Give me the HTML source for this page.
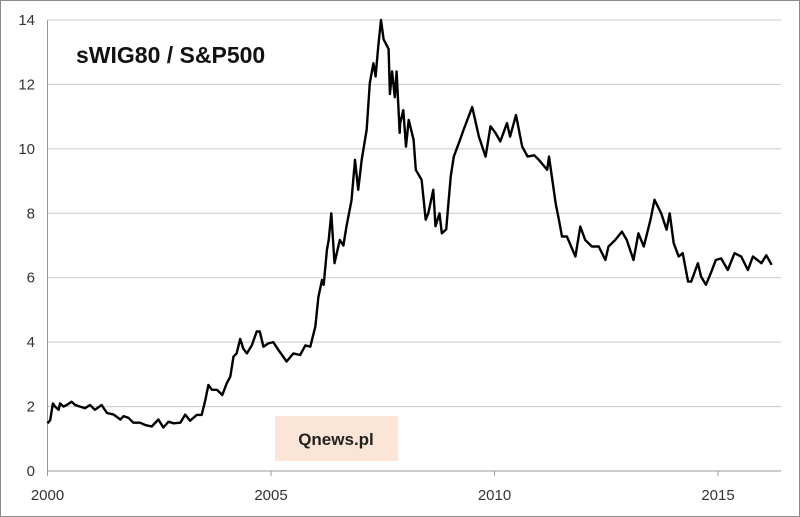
<!DOCTYPE html>
<html><head><meta charset="utf-8"><style>
body{margin:0;background:#fff}
svg{display:block;font-family:"Liberation Sans",Arial,sans-serif}
</style></head><body>
<svg id="chart" width="800" height="517" viewBox="0 0 800 517">
<rect x="0.5" y="0.5" width="799" height="516" fill="#fff" stroke="#8c8c8c"/>
<g id="grid"></g>
<g id="axes"></g>
<rect x="275" y="416" width="123" height="45" fill="#fbe5d6"/>
<text x="336" y="445" text-anchor="middle" font-size="17" font-weight="bold" fill="#222">Qnews.pl</text>
<text x="76" y="63" font-size="23" font-weight="bold" fill="#111">sWIG80 / S&amp;P500</text>
<path id="line" fill="none" stroke="#000" stroke-width="2.4" stroke-linejoin="round"/>
</svg>
<script>
const years=[2000.0,2000.06,2000.12,2000.17,2000.25,2000.28,2000.36,2000.43,2000.54,2000.62,2000.73,2000.84,2000.95,2001.06,2001.21,2001.33,2001.48,2001.63,2001.7,2001.81,2001.92,2002.07,2002.18,2002.33,2002.48,2002.59,2002.71,2002.82,2002.97,2003.08,2003.19,2003.34,2003.45,2003.53,2003.6,2003.68,2003.79,2003.91,2004.01,2004.09,2004.16,2004.23,2004.31,2004.38,2004.46,2004.57,2004.68,2004.75,2004.83,2004.94,2005.05,2005.17,2005.35,2005.5,2005.65,2005.77,2005.88,2005.99,2006.06,2006.14,2006.18,2006.25,2006.29,2006.35,2006.42,2006.54,2006.62,2006.69,2006.8,2006.88,2006.95,2007.03,2007.14,2007.21,2007.29,2007.34,2007.4,2007.46,2007.52,2007.63,2007.66,2007.71,2007.77,2007.81,2007.88,7.89+2000,2007.96,2008.02,2008.08,2008.19,2008.24,2008.37,2008.46,2008.52,2008.63,2008.68,2008.77,2008.82,2008.92,2009.02,2009.09,2009.2,2009.31,2009.5,2009.65,2009.8,2009.91,2010.02,2010.13,2010.28,2010.35,2010.48,2010.62,2010.74,2010.89,2010.99,2011.18,2011.22,2011.37,2011.44,2011.51,2011.62,2011.81,2011.92,2012.03,2012.18,2012.33,2012.48,2012.55,2012.7,2012.85,2012.96,2013.11,2013.22,2013.34,2013.49,2013.58,2013.73,2013.85,2013.92,2014.01,2014.12,2014.21,2014.33,2014.4,2014.55,2014.62,2014.73,2014.84,2014.95,2015.07,2015.22,2015.37,2015.52,2015.67,2015.78,2015.97,2016.08,2016.2,2016.38,2016.41];
const values=[1.48,1.58,2.1,2.0,1.9,2.1,2.0,2.05,2.15,2.05,2.0,1.95,2.05,1.9,2.05,1.8,1.75,1.6,1.7,1.65,1.5,1.5,1.43,1.38,1.6,1.35,1.53,1.48,1.5,1.75,1.56,1.74,1.74,2.2,2.67,2.52,2.52,2.36,2.72,2.93,3.55,3.65,4.1,3.8,3.65,3.9,4.33,4.33,3.86,3.96,4.0,3.75,3.4,3.65,3.6,3.9,3.86,4.48,5.4,5.93,5.78,6.86,7.17,8.0,6.45,7.17,7.0,7.6,8.4,9.66,8.73,9.66,10.6,12.04,12.66,12.25,13.2,14.0,13.4,13.1,11.7,12.4,11.6,12.4,10.5,10.8,11.2,10.07,10.9,10.28,9.35,9.04,7.8,8.0,8.73,7.6,8.0,7.38,7.5,9.14,9.76,10.17,10.6,11.3,10.38,9.76,10.7,10.5,10.23,10.8,10.38,11.05,10.07,9.76,9.8,9.66,9.35,9.76,8.3,7.8,7.28,7.28,6.66,7.59,7.17,6.97,6.97,6.55,6.97,7.17,7.43,7.17,6.55,7.38,6.97,7.8,8.42,8.0,7.49,8.0,7.07,6.66,6.76,5.88,5.88,6.45,6.04,5.78,6.14,6.55,6.6,6.24,6.76,6.66,6.24,6.66,6.45,6.7,6.4];
const yTicks=[0,2,4,6,8,10,12,14];
const xTicks=[2000,2005,2010,2015];
const NS="http://www.w3.org/2000/svg";
const X0=47.5,X1=781,Y0=471,Y1=20;
const xs=y=>X0+(y-2000)*44.7;
const ys=v=>Y0-(v/14)*(Y0-Y1);
const grid=document.getElementById('grid'),axes=document.getElementById('axes');
yTicks.forEach(t=>{
  const l=document.createElementNS(NS,'line');
  
  
  l.setAttribute('x1',X0);l.setAttribute('x2',X1);l.setAttribute('y1',ys(t));l.setAttribute('y2',ys(t));
  l.setAttribute('stroke',t===0?'#999':'#c8c8c8');l.setAttribute('stroke-width','1');
  grid.appendChild(l);
  const tx=document.createElementNS(NS,'text');
  
  
  tx.setAttribute('x',35);tx.setAttribute('y',ys(t)+5);tx.setAttribute('text-anchor','end');
  tx.setAttribute('font-size','15');tx.setAttribute('fill','#333');tx.textContent=t;
  axes.appendChild(tx);
});
const ax=document.createElementNS(NS,'line');


ax.setAttribute('x1',X0);ax.setAttribute('x2',X0);ax.setAttribute('y1',Y1);ax.setAttribute('y2',Y0+5);ax.setAttribute('stroke','#999');
axes.appendChild(ax);
xTicks.forEach(t=>{
  const l=document.createElementNS(NS,'line');
  
  
  l.setAttribute('x1',xs(t));l.setAttribute('x2',xs(t));l.setAttribute('y1',Y0);l.setAttribute('y2',Y0+5);l.setAttribute('stroke','#999');
  axes.appendChild(l);
  const tx=document.createElementNS(NS,'text');
  
  
  tx.setAttribute('x',xs(t));tx.setAttribute('y',500);tx.setAttribute('text-anchor','middle');
  tx.setAttribute('font-size','15');tx.setAttribute('fill','#333');tx.textContent=t;
  axes.appendChild(tx);
});
document.getElementById('line').setAttribute('d',years.map((y,i)=>(i?'L':'M')+xs(y).toFixed(1)+','+ys(values[i]).toFixed(1)).join(''));
</script>
</body></html>
